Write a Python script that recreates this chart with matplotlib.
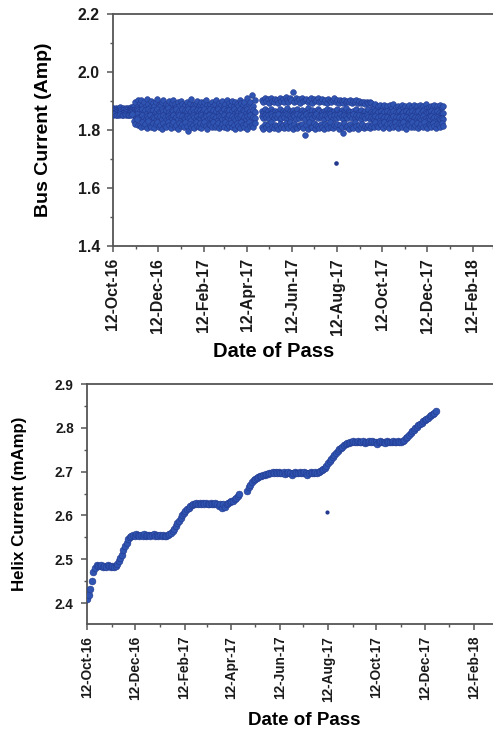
import numpy as np
import pandas as pd
from matplotlib import pyplot as plt
import matplotlib.dates as mdates
from matplotlib.ticker import MultipleLocator

plt.rcParams['font.family'] = ['Liberation Sans', 'DejaVu Sans']
plt.rcParams['font.weight'] = 'bold'

nan = np.nan

# Bus current, four passes read per 2-day slot starting 12-Oct-2016
# (narrow start, wide band, gap late April, three sub-bands, dense end)
bus_a = [1.876, 1.874, 1.877, 1.873, 1.875, 1.878, 1.874, 1.876, 1.873, 1.877, 1.875, 1.874, 1.878, 1.876,
         1.884, 1.896, 1.878, 1.905,
         1.892, 1.903, 1.885, 1.898, 1.880, 1.906, 1.889, 1.878, 1.900, 1.893,
         1.884, 1.897, 1.908, 1.887, 1.881, 1.895, 1.902, 1.879, 1.890, 1.886,
         1.899, 1.883, 1.893, 1.905, 1.888, 1.880, 1.896, 1.884, 1.901, 1.891,
         1.879, 1.887, 1.898, 1.882, 1.894, 1.906, 1.886, 1.878, 1.892, 1.900,
         1.883, 1.889, 1.897, 1.881, 1.895, 1.903, 1.885, 1.879, 1.891, 1.898,
         1.884, 1.888, 1.902, 1.880, 1.893, 1.886, 1.899, 1.882, 1.890, 1.904,
         1.878, 1.894, 1.887, 1.900, 1.883, 1.896, 1.889, 1.881, 1.905, 1.892,
         1.885, 1.898, 1.880, 1.910, 1.888, 1.895, 1.921, 1.884, 1.902,
         nan, nan, nan, nan,
         1.902, 1.896, 1.910, 1.899, 1.906, 1.893, 1.912, 1.901, 1.897, 1.908,
         1.904, 1.894, 1.911, 1.900, 1.907, 1.895, 1.913, 1.903, 1.898, 1.909,
         1.905, 1.932, 1.896, 1.910, 1.901, 1.907, 1.893, 1.911, 1.899, 1.904,
         1.908, 1.897, 1.902, 1.910, 1.894, 1.906, 1.900, 1.903, 1.909, 1.895,
         1.901, 1.907, 1.898, 1.904, 1.893, 1.906, 1.900, 1.896, 1.903, 1.909,
         1.897, 1.902, 1.894, 1.905, 1.899, 1.892, 1.904, 1.898, 1.901, 1.895,
         1.903, 1.893, 1.899, 1.896, 1.902, 1.894, 1.900, 1.892, 1.897, 1.895,
         1.891, 1.898, 1.893, 1.896, 1.892,
         1.884, 1.877, 1.889, 1.872, 1.881, 1.886, 1.870, 1.879, 1.887, 1.874,
         1.882, 1.869, 1.885, 1.876, 1.888, 1.873, 1.880, 1.884, 1.871, 1.878,
         1.886, 1.875, 1.883, 1.868, 1.880, 1.887, 1.872, 1.879, 1.885, 1.874,
         1.881, 1.870, 1.886, 1.877, 1.883, 1.873, 1.888, 1.876, 1.880, 1.871,
         1.884, 1.878, 1.886, 1.872, 1.882, 1.875, 1.887, 1.879, 1.883]

bus_b = [1.868, 1.866, 1.869, 1.865, 1.867, 1.870, 1.866, 1.868, 1.864, 1.869, 1.867, 1.865, 1.870, 1.868,
         1.870, 1.866, 1.872, 1.868,
         1.866, 1.859, 1.872, 1.862, 1.869, 1.857, 1.874, 1.864, 1.860, 1.870,
         1.856, 1.867, 1.873, 1.861, 1.858, 1.871, 1.865, 1.859, 1.868, 1.875,
         1.863, 1.857, 1.870, 1.866, 1.860, 1.873, 1.858, 1.867, 1.862, 1.871,
         1.856, 1.869, 1.864, 1.874, 1.859, 1.866, 1.872, 1.861, 1.857, 1.868,
         1.863, 1.870, 1.858, 1.865, 1.873, 1.860, 1.867, 1.856, 1.871, 1.862,
         1.869, 1.857, 1.864, 1.874, 1.859, 1.866, 1.861, 1.872, 1.858, 1.868,
         1.863, 1.870, 1.856, 1.865, 1.873, 1.860, 1.867, 1.862, 1.871, 1.857,
         1.869, 1.864, 1.858, 1.872, 1.861, 1.866, 1.859, 1.870, 1.863,
         nan, nan, nan, nan,
         1.864, 1.857, 1.871, 1.860, 1.865, 1.856, 1.874, 1.861, 1.858, 1.866,
         1.863, 1.855, 1.872, 1.859, 1.864, 1.857, 1.867, 1.875, 1.856, 1.865,
         1.860, 1.868, 1.858, 1.863, 1.873, 1.855, 1.861, 1.869, 1.857, 1.864,
         1.859, 1.876, 1.862, 1.856, 1.868, 1.860, 1.865, 1.858, 1.871, 1.867,
         1.855, 1.861, 1.866, 1.859, 1.874, 1.857, 1.869, 1.862, 1.858, 1.865,
         1.860, 1.872, 1.856, 1.863, 1.868, 1.861, 1.857, 1.875, 1.859, 1.864,
         1.862, 1.855, 1.867, 1.860, 1.873, 1.858, 1.863, 1.869, 1.856, 1.861,
         1.866, 1.859, 1.874, 1.857, 1.862,
         1.860, 1.854, 1.866, 1.857, 1.863, 1.851, 1.865, 1.858, 1.862, 1.853,
         1.867, 1.856, 1.861, 1.859, 1.864, 1.850, 1.862, 1.857, 1.866, 1.855,
         1.860, 1.863, 1.852, 1.865, 1.858, 1.861, 1.854, 1.867, 1.856, 1.862,
         1.859, 1.864, 1.851, 1.860, 1.866, 1.855, 1.863, 1.857, 1.861, 1.853,
         1.865, 1.858, 1.862, 1.856, 1.864, 1.859, 1.852, 1.860, 1.857]

bus_c = [1.860, 1.858, 1.861, 1.857, 1.859, 1.862, 1.858, 1.860, 1.856, 1.861, 1.859, 1.857, 1.862, 1.860,
         1.852, 1.848, 1.855, 1.845,
         1.845, 1.838, 1.850, 1.842, 1.836, 1.848, 1.840, 1.852, 1.837, 1.846,
         1.843, 1.835, 1.849, 1.841, 1.847, 1.838, 1.851, 1.844, 1.836, 1.848,
         1.840, 1.846, 1.837, 1.850, 1.842, 1.845, 1.839, 1.852, 1.835, 1.847,
         1.843, 1.838, 1.849, 1.841, 1.846, 1.836, 1.851, 1.844, 1.839, 1.848,
         1.842, 1.837, 1.850, 1.845, 1.840, 1.847, 1.835, 1.852, 1.843, 1.838,
         1.849, 1.841, 1.846, 1.836, 1.848, 1.844, 1.839, 1.851, 1.837, 1.845,
         1.842, 1.850, 1.838, 1.847, 1.843, 1.836, 1.849, 1.840, 1.846, 1.852,
         1.839, 1.844, 1.837, 1.848, 1.841, 1.850, 1.838, 1.845, 1.842,
         nan, nan, nan, nan,
         1.848, 1.840, 1.853, 1.846, 1.851, 1.838, 1.855, 1.847, 1.843, 1.850,
         1.845, 1.854, 1.839, 1.842, 1.852, 1.846, 1.856, 1.837, 1.850, 1.847,
         1.843, 1.853, 1.848, 1.839, 1.855, 1.842, 1.851, 1.846, 1.849, 1.838,
         1.854, 1.847, 1.843, 1.852, 1.840, 1.850, 1.848, 1.856, 1.842, 1.849,
         1.846, 1.853, 1.838, 1.851, 1.847, 1.843, 1.855, 1.848, 1.839, 1.852,
         1.842, 1.850, 1.846, 1.854, 1.849, 1.837, 1.851, 1.847, 1.843, 1.853,
         1.848, 1.840, 1.856, 1.842, 1.850, 1.846, 1.852, 1.838, 1.849, 1.847,
         1.843, 1.851, 1.845, 1.839, 1.846,
         1.842, 1.836, 1.847, 1.839, 1.845, 1.833, 1.849, 1.840, 1.844, 1.837,
         1.846, 1.834, 1.843, 1.841, 1.848, 1.835, 1.844, 1.838, 1.846, 1.832,
         1.842, 1.847, 1.836, 1.845, 1.839, 1.843, 1.834, 1.849, 1.840, 1.844,
         1.837, 1.846, 1.841, 1.835, 1.848, 1.839, 1.843, 1.836, 1.845, 1.838,
         1.847, 1.840, 1.844, 1.834, 1.846, 1.841, 1.837, 1.843, 1.839]

bus_d = [1.852, 1.854, 1.851, 1.853, 1.850, 1.855, 1.852, 1.851, 1.854, 1.852, 1.850, 1.853, 1.851, 1.855,
         1.832, 1.820, 1.838, 1.816,
         1.818, 1.809, 1.826, 1.813, 1.822, 1.806, 1.830, 1.815, 1.811, 1.824,
         1.808, 1.820, 1.828, 1.812, 1.817, 1.805, 1.823, 1.814, 1.810, 1.827,
         1.816, 1.807, 1.821, 1.829, 1.811, 1.818, 1.804, 1.825, 1.813, 1.819,
         1.809, 1.826, 1.815, 1.795, 1.822, 1.812, 1.817, 1.806, 1.828, 1.814,
         1.810, 1.823, 1.808, 1.819, 1.826, 1.813, 1.805, 1.821, 1.816, 1.811,
         1.827, 1.809, 1.818, 1.824, 1.807, 1.815, 1.822, 1.812, 1.829, 1.806,
         1.819, 1.813, 1.825, 1.810, 1.817, 1.803, 1.823, 1.814, 1.808, 1.826,
         1.816, 1.811, 1.821, 1.805, 1.828, 1.813, 1.818, 1.809, 1.824,
         nan, nan, nan, nan,
         1.812, 1.805, 1.820, 1.809, 1.816, 1.803, 1.826, 1.811, 1.807, 1.818,
         1.814, 1.804, 1.821, 1.810, 1.817, 1.806, 1.824, 1.813, 1.808, 1.827,
         1.815, 1.802, 1.822, 1.811, 1.806, 1.818, 1.813, 1.820, 1.808, 1.783,
         1.816, 1.805, 1.828, 1.812, 1.809, 1.823, 1.804, 1.817, 1.814, 1.807,
         1.819, 1.811, 1.803, 1.822, 1.815, 1.808, 1.826, 1.812, 1.806, 1.818,
         1.813, 1.821, 1.805, 1.816, 1.810, 1.790, 1.823, 1.809, 1.815, 1.804,
         1.819, 1.812, 1.807, 1.827, 1.814, 1.803, 1.817, 1.810, 1.821, 1.806,
         1.815, 1.811, 1.818, 1.808, 1.813,
         1.822, 1.812, 1.827, 1.815, 1.809, 1.824, 1.818, 1.806, 1.826, 1.813,
         1.820, 1.808, 1.825, 1.816, 1.811, 1.828, 1.814, 1.807, 1.823, 1.819,
         1.810, 1.826, 1.813, 1.805, 1.821, 1.817, 1.809, 1.827, 1.812, 1.818,
         1.824, 1.806, 1.815, 1.822, 1.810, 1.826, 1.814, 1.808, 1.820, 1.816,
         1.811, 1.825, 1.813, 1.807, 1.821, 1.818, 1.809, 1.823, 1.815]

# Helix current, one reading per 2-day slot
helix = [2.408, 2.418, 2.432, 2.451, 2.470, 2.481, 2.486, 2.485,
         2.484, 2.486, 2.483, 2.485, 2.482, 2.486, 2.484, 2.483, 2.485, 2.482, 2.484,
         2.488, 2.495, 2.503, 2.510, 2.520, 2.530, 2.538, 2.546, 2.551, 2.554,
         2.556, 2.554, 2.557, 2.555, 2.553, 2.556, 2.554, 2.557, 2.552, 2.555, 2.556, 2.553,
         2.555, 2.557, 2.554, 2.556, 2.552, 2.555, 2.553, 2.556, 2.554, 2.552, 2.555,
         2.557, 2.560, 2.565, 2.570, 2.576, 2.582, 2.588, 2.594, 2.600, 2.605, 2.610, 2.614,
         2.618, 2.621, 2.623, 2.625,
         2.627, 2.629, 2.626, 2.628, 2.625, 2.628, 2.627, 2.629, 2.626, 2.627, 2.628,
         2.625, 2.627, 2.629, 2.626, 2.621, 2.627, 2.618, 2.626, 2.620, 2.627,
         2.628, 2.630, 2.632, 2.633, 2.637, 2.640, 2.644, 2.648,
         nan, nan, nan, nan,
         2.656, 2.664, 2.670, 2.676, 2.680, 2.684, 2.686, 2.688, 2.690, 2.691, 2.692, 2.693,
         2.694, 2.695, 2.696,
         2.697, 2.698, 2.696, 2.698, 2.697, 2.699, 2.696, 2.697, 2.698, 2.695, 2.697, 2.698,
         2.696, 2.692, 2.697, 2.698, 2.696, 2.697, 2.699, 2.697, 2.696, 2.698, 2.697, 2.693,
         2.697, 2.698, 2.696, 2.697, 2.698, 2.697,
         2.699, 2.701, 2.703, 2.705, 2.708, 2.713, 2.719, 2.724, 2.729, 2.734, 2.739, 2.743,
         2.747, 2.751, 2.754, 2.757, 2.760, 2.763, 2.765, 2.766, 2.767,
         2.768, 2.769, 2.767, 2.768, 2.770, 2.767, 2.768, 2.769, 2.766, 2.768, 2.767, 2.769,
         2.768, 2.770, 2.767, 2.768, 2.764, 2.768, 2.769, 2.767, 2.768, 2.766, 2.769, 2.768,
         2.767, 2.768, 2.770, 2.767, 2.768, 2.769, 2.767, 2.768, 2.769,
         2.772, 2.776, 2.780, 2.784, 2.788, 2.792, 2.796, 2.800, 2.803, 2.806, 2.809, 2.812,
         2.815, 2.818, 2.821, 2.823, 2.826, 2.829, 2.832, 2.835, 2.838]

# single stray pass in both records
outlier_date = "2017-08-11"
bus_outlier = 1.685
helix_outlier = 2.608

start = "2016-10-12"
bus_dates = pd.date_range(start, periods=len(bus_a), freq="2D")
helix_dates = pd.date_range(start, periods=len(helix), freq="2D")

dot_face = "#2f54b2"
dot_edge = "#22398f"
spine_col = "#555555"


def style_axes(ax, tick_size):
    ax.set_xlim(pd.Timestamp("2016-10-12"), pd.Timestamp("2018-03-20"))
    ax.xaxis.set_major_locator(mdates.MonthLocator(bymonth=(2, 4, 6, 8, 10, 12), bymonthday=12))
    ax.xaxis.set_minor_locator(mdates.MonthLocator(bymonth=(1, 3, 5, 7, 9, 11), bymonthday=12))
    ax.xaxis.set_major_formatter(mdates.DateFormatter("%d-%b-%y"))
    for lab in ax.get_xticklabels():
        lab.set_rotation(90)
    ax.tick_params(which="major", direction="out", length=4.5, width=1.1,
                   color=spine_col, labelsize=tick_size)
    ax.tick_params(which="minor", direction="out", length=2.5, width=1.0, color=spine_col)
    ax.tick_params(axis="y", pad=5)
    ax.tick_params(axis="x", pad=4)
    for s in ax.spines.values():
        s.set_color(spine_col)
        s.set_linewidth(1.3)
    for lab in ax.get_xticklabels() + ax.get_yticklabels():
        lab.set_fontweight("bold")
        lab.set_color("#1a1a1a")


fig = plt.figure(figsize=(4.93, 7.29), dpi=100)

# --- top: bus current ---
ax1 = fig.add_axes([0.2292, 0.6626, 0.7836, 0.3182])
for series in (bus_a, bus_b, bus_c, bus_d):
    ax1.scatter(bus_dates, series, s=17, c=dot_face, edgecolors=dot_edge, linewidths=0.4, zorder=3)
ax1.scatter([pd.Timestamp(outlier_date)], [bus_outlier], s=11, c=dot_edge, linewidths=0, zorder=3)
ax1.set_ylim(1.4, 2.2)
ax1.yaxis.set_major_locator(MultipleLocator(0.2))
ax1.yaxis.set_minor_locator(MultipleLocator(0.1))
ax1.yaxis.set_major_formatter(plt.FormatStrFormatter("%.1f"))
style_axes(ax1, 11.4)
ax1.set_ylabel("Bus Current (Amp)", fontsize=14, fontweight="bold")
ax1.yaxis.set_label_coords(-0.157, 0.5)
ax1.set_xlabel("Date of Pass", fontsize=14.5, fontweight="bold", va="top")
ax1.xaxis.set_label_coords(0.417, -0.414)

# --- bottom: helix current ---
ax2 = fig.add_axes([0.1765, 0.144, 0.8428, 0.3292])
ax2.scatter(helix_dates, helix, s=24, c=dot_face, edgecolors=dot_edge, linewidths=0.4, zorder=3)
ax2.scatter([pd.Timestamp(outlier_date)], [helix_outlier], s=9, c=dot_edge, linewidths=0, zorder=3)
ax2.set_ylim(2.352, 2.9)
ax2.yaxis.set_major_locator(MultipleLocator(0.1))
ax2.yaxis.set_minor_locator(MultipleLocator(0.05))
ax2.yaxis.set_major_formatter(plt.FormatStrFormatter("%.1f"))
style_axes(ax2, 9.8)
ax2.set_ylabel("Helix Current (mAmp)", fontsize=12.2, fontweight="bold")
ax2.yaxis.set_label_coords(-0.144, 0.5)
ax2.set_xlabel("Date of Pass", fontsize=13.5, fontweight="bold", va="top")
ax2.xaxis.set_label_coords(0.524, -0.365)

fig.savefig("out.png", dpi=100)
